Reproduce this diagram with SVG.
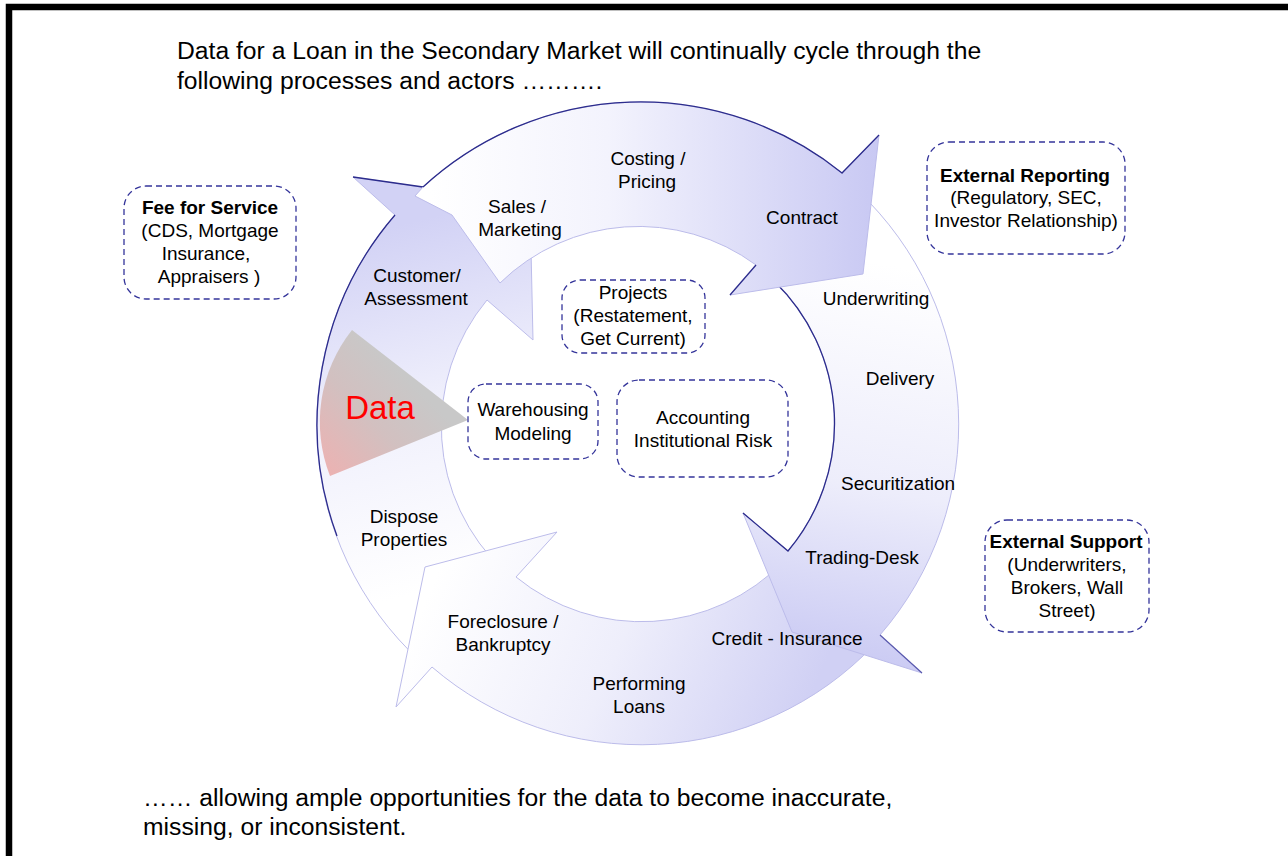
<svg xmlns="http://www.w3.org/2000/svg" width="1288" height="856" viewBox="0 0 1288 856">
<style>
  text { font-family: "Liberation Sans", Arial, sans-serif; fill: #000; }
  .lbl { font-size: 19px; text-anchor: middle; }
  .b { font-weight: bold; }
  .ttl { font-size: 24.7px; }
  .box { fill: none; stroke: #34349a; stroke-width: 1.3; stroke-dasharray: 6 4; }
  .arrow { stroke: #bcbcea; stroke-width: 1; }
  .dark { fill: none; stroke: #2c2c8c; stroke-width: 1.3; }
  .mid { fill: none; stroke: #5a5aae; stroke-width: 1.2; }
</style>
<defs>
  <linearGradient id="gA" gradientUnits="userSpaceOnUse" x1="430" y1="200" x2="875" y2="200">
    <stop offset="0" stop-color="#ffffff"/>
    <stop offset="0.4" stop-color="#f3f3fd"/>
    <stop offset="1" stop-color="#c9c9f3"/>
  </linearGradient>
  <linearGradient id="gB" gradientUnits="userSpaceOnUse" x1="860" y1="260" x2="790" y2="660">
    <stop offset="0" stop-color="#ffffff"/>
    <stop offset="0.55" stop-color="#ededfb"/>
    <stop offset="1" stop-color="#c9c9f3"/>
  </linearGradient>
  <linearGradient id="gC" gradientUnits="userSpaceOnUse" x1="430" y1="590" x2="790" y2="745">
    <stop offset="0" stop-color="#ffffff"/>
    <stop offset="0.5" stop-color="#eeeefb"/>
    <stop offset="1" stop-color="#d0d0f4"/>
  </linearGradient>
  <linearGradient id="gD" gradientUnits="userSpaceOnUse" x1="470" y1="580" x2="380" y2="230">
    <stop offset="0" stop-color="#ffffff"/>
    <stop offset="0.5" stop-color="#f0f0fc"/>
    <stop offset="1" stop-color="#d2d2f5"/>
  </linearGradient>
  <linearGradient id="gData" gradientUnits="userSpaceOnUse" x1="325" y1="472" x2="415" y2="385">
    <stop offset="0" stop-color="#ecb2b2"/>
    <stop offset="0.55" stop-color="#d2c0c0"/>
    <stop offset="1" stop-color="#c8c8c8"/>
  </linearGradient>
</defs>

<rect width="1288" height="856" fill="#ffffff"/>
<rect x="9" y="7" width="1300" height="900" fill="none" stroke="#000" stroke-width="6.5"/>

<g id="title">
  <text class="ttl" x="177" y="59">Data for a Loan in the Secondary Market will continually cycle through the</text>
  <text class="ttl" x="177" y="89">following processes and actors ……….</text>
</g>

<g id="cycle-arrows">
  <g id="arrow-left">
    <path class="arrow" fill="url(#gD)" d="M420,661 A321,321 0 0 1 395,215 L353,177 L530,203 L533,340 L487,300 A198,198 0 0 0 504,571 Z"/>
    <path class="dark" d="M337,536 A321,321 0 0 1 395,215"/>
    <path class="dark" d="M353,177 L423,187"/>
  </g>
  <g id="arrow-bottom">
    <path class="arrow" fill="url(#gC)" d="M874,645 A321,321 0 0 1 432,667 L396,707 L425,567 L557,532 L516,577 A198,198 0 0 0 784,561 Z"/>
  </g>
  <g id="arrow-right">
    <path class="arrow" fill="url(#gB)" d="M858,191 A321,321 0 0 1 880,635 L922,673 L792,632 L743,513 L788,551 A198,198 0 0 0 774,281 Z"/>
    <path class="dark" d="M743,513 L788,551 A198,198 0 0 0 774,281"/>
    <path class="mid" d="M880,635 L922,673"/>
  </g>
  <g id="arrow-top">
    <path class="arrow" fill="url(#gA)" d="M423,187 A321,321 0 0 1 842,173 L879,135 L863,274 L730,295 L756,265 A198,198 0 0 0 500,283 L452,215 L415,196 Z"/>
    <path class="dark" d="M423,187 A321,321 0 0 1 842,173 L879,135"/>
    <path class="dark" d="M730,295 L756,265"/>
  </g>
</g>

<g id="data">
  <path d="M468,420 L352,330 A148,148 0 0 0 330,476 Z" fill="url(#gData)"/>
  <text x="380" y="419" style="font-size:33px; text-anchor:middle; fill:#ff0000;">Data</text>
</g>

<g id="cycle-labels">
  <text class="lbl" x="648" y="165">Costing /</text>
  <text class="lbl" x="647" y="188">Pricing</text>
  <text class="lbl" x="517" y="213">Sales /</text>
  <text class="lbl" x="520" y="236">Marketing</text>
  <text class="lbl" x="802" y="224">Contract</text>
  <text class="lbl" x="417" y="282">Customer/</text>
  <text class="lbl" x="416" y="305">Assessment</text>
  <text class="lbl" x="876" y="305">Underwriting</text>
  <text class="lbl" x="900" y="385">Delivery</text>
  <text class="lbl" x="898" y="490">Securitization</text>
  <text class="lbl" x="862" y="564">Trading-Desk</text>
  <text class="lbl" x="787" y="645">Credit - Insurance</text>
  <text class="lbl" x="639" y="690">Performing</text>
  <text class="lbl" x="639" y="713">Loans</text>
  <text class="lbl" x="503" y="628">Foreclosure /</text>
  <text class="lbl" x="503" y="651">Bankruptcy</text>
  <text class="lbl" x="404" y="523">Dispose</text>
  <text class="lbl" x="404" y="546">Properties</text>
</g>

<g id="fee-for-service">
  <rect class="box" x="124" y="186" width="172" height="113" rx="22"/>
  <text class="lbl b" x="210" y="214">Fee for Service</text>
  <text class="lbl" x="210" y="237">(CDS, Mortgage</text>
  <text class="lbl" x="206" y="260">Insurance,</text>
  <text class="lbl" x="209" y="283">Appraisers )</text>
</g>

<g id="external-reporting">
  <rect class="box" x="927" y="142" width="198" height="112" rx="22"/>
  <text class="lbl b" x="1025" y="182">External Reporting</text>
  <text class="lbl" x="1026" y="204">(Regulatory, SEC,</text>
  <text class="lbl" x="1026" y="227">Investor Relationship)</text>
</g>

<g id="external-support">
  <rect class="box" x="985" y="520" width="164" height="112" rx="22"/>
  <text class="lbl b" x="1066" y="548">External Support</text>
  <text class="lbl" x="1067" y="571">(Underwriters,</text>
  <text class="lbl" x="1067" y="594">Brokers, Wall</text>
  <text class="lbl" x="1067" y="617">Street)</text>
</g>

<g id="projects">
  <rect class="box" x="562" y="280" width="143" height="73" rx="18"/>
  <text class="lbl" x="633" y="299">Projects</text>
  <text class="lbl" x="633" y="322">(Restatement,</text>
  <text class="lbl" x="633" y="345">Get Current)</text>
</g>

<g id="warehousing">
  <rect class="box" x="468" y="384" width="130" height="75" rx="18"/>
  <text class="lbl" x="533" y="416">Warehousing</text>
  <text class="lbl" x="533" y="440">Modeling</text>
</g>

<g id="accounting">
  <rect class="box" x="617" y="380" width="171" height="97" rx="22"/>
  <text class="lbl" x="703" y="424">Accounting</text>
  <text class="lbl" x="703" y="447">Institutional Risk</text>
</g>

<g id="footer">
  <text class="ttl" x="143" y="806">…… allowing ample opportunities for the data to become inaccurate,</text>
  <text class="ttl" x="143" y="835">missing, or inconsistent.</text>
</g>
</svg>
